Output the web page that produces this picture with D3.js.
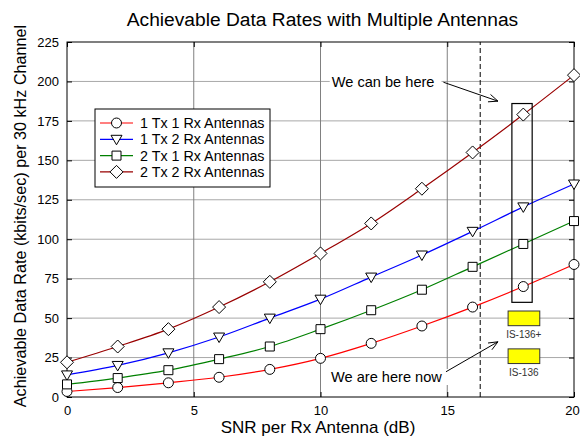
<!DOCTYPE html>
<html>
<head>
<meta charset="utf-8">
<script src="https://cdn.jsdelivr.net/npm/d3@7"></script>
<style>
  body { margin: 0; background: #fff; }
  svg { display: block; font-family: "Liberation Sans", Arial, sans-serif; }
</style>
</head>
<body>
<svg id="chart" width="580" height="440"></svg>
<script>
// SNR per receive antenna (dB)
const snr = [0, 2, 4, 6, 8, 10, 12, 14, 16, 18, 20];

// Achievable rate (kbits/sec per 30 kHz channel) for each antenna configuration
const rate1x1 = [3.5, 6, 9, 12.5, 17.5, 24.5, 34, 45, 57, 70, 84];
const rate1x2 = [14, 20, 28, 38, 50, 62, 76, 90, 105, 120.5, 135];
const rate2x1 = [8, 12, 17, 24, 32, 43, 55, 68, 82.5, 97, 111.5];
const rate2x2 = [22, 32, 43, 57, 73, 91, 110, 132, 155, 179, 204];

const seriesNames = ["1 Tx 1 Rx Antennas", "1 Tx 2 Rx Antennas", "2 Tx 1 Rx Antennas", "2 Tx 2 Rx Antennas"];
const seriesColors = ["#ff0000", "#0000ff", "#008000", "#990000"];
const seriesMarkers = ["circle", "triangle", "square", "diamond"];

const xTicks = [0, 5, 10, 15, 20];
const yTicks = [0, 25, 50, 75, 100, 125, 150, 175, 200, 225];

// Current operating point and the target region at 18 dB
const nowSnr = 16.3;
const regionBox = { x0: 17.55, x1: 18.35, y0: 60, y1: 186 };

const series = [rate1x1, rate1x2, rate2x1, rate2x2].map((vals, i) => ({
  name: seriesNames[i], color: seriesColors[i], marker: seriesMarkers[i],
  points: snr.map((s, j) => ({ x: s, y: vals[j] }))
}));

const svg = d3.select("#chart");
const margin = { left: 67, right: 6, top: 42, bottom: 43 };
const W = 580, H = 440;
const x = d3.scaleLinear().domain([0, 20]).range([margin.left, W - margin.right]);
const y = d3.scaleLinear().domain([0, 225]).range([H - margin.bottom, margin.top]);

// Grid
svg.append("g").selectAll("line").data(yTicks.slice(1, -1)).join("line")
  .attr("x1", x(0)).attr("x2", x(20))
  .attr("y1", d => y(d)).attr("y2", d => y(d))
  .attr("stroke", "#a8a8a8").attr("stroke-width", 1);
svg.append("g").selectAll("line").data(xTicks.slice(1, -1)).join("line")
  .attr("y1", y(0)).attr("y2", y(225))
  .attr("x1", d => x(d)).attr("x2", d => x(d))
  .attr("stroke", "#808080").attr("stroke-width", 1);

// Axes with inward ticks on all four sides
const tickLen = 5;
svg.append("g").attr("class", "x-bottom").attr("transform", `translate(0,${y(0)})`)
  .call(d3.axisBottom(x).tickValues(xTicks).tickSize(-tickLen).tickPadding(9))
  .call(g => g.select(".domain").remove());
svg.append("g").attr("transform", `translate(0,${y(225)})`)
  .call(d3.axisTop(x).tickValues(xTicks).tickSize(-tickLen).tickFormat(""))
  .call(g => g.select(".domain").remove());
svg.append("g").attr("transform", `translate(${x(0)},0)`)
  .call(d3.axisLeft(y).tickValues(yTicks).tickSize(-tickLen).tickPadding(8))
  .call(g => g.select(".domain").remove());
svg.append("g").attr("transform", `translate(${x(20)},0)`)
  .call(d3.axisRight(y).tickValues(yTicks).tickSize(-tickLen).tickFormat(""))
  .call(g => g.select(".domain").remove());
svg.selectAll(".tick text").attr("font-size", 13).attr("fill", "#000")
  .attr("font-family", "Liberation Sans, Arial, sans-serif");
svg.selectAll(".tick line").attr("stroke", "#000");
// keep the last x label inside the page edge
svg.select(".x-bottom").selectAll(".tick text").filter(d => d === 20).attr("dx", -2);

// Frame
svg.append("rect").attr("x", x(0)).attr("y", y(225))
  .attr("width", x(20) - x(0)).attr("height", y(0) - y(225))
  .attr("fill", "none").attr("stroke", "#000").attr("stroke-width", 1);

// Dashed line at current SNR
svg.append("line").attr("x1", x(nowSnr)).attr("x2", x(nowSnr))
  .attr("y1", y(0)).attr("y2", y(225))
  .attr("stroke", "#000").attr("stroke-dasharray", "5,3");

// Annotations (white backing hides the grid behind the text)
function note(txt, cx, cy, padL, padR) {
  const t = svg.append("text").attr("x", cx).attr("y", cy).attr("text-anchor", "middle")
    .attr("font-size", 14.6).attr("fill", "#000").text(txt);
  const b = t.node().getBBox();
  svg.insert("rect", () => t.node()).attr("x", b.x - padL).attr("y", b.y)
    .attr("width", b.width + padL + padR).attr("height", b.height).attr("fill", "#fff");
}
note("We can be here", x(12.47), y(199.5) + 5, 2, 7);
note("We are here now", x(12.6), y(9.5), 9, 6);

// Curves
const line = d3.line().x(d => x(d.x)).y(d => y(d.y)).curve(d3.curveMonotoneX);
svg.append("g").selectAll("path").data(series).join("path")
  .attr("d", d => line(d.points)).attr("fill", "none")
  .attr("stroke", d => d.color).attr("stroke-width", 1.2);

// Marker shapes
function markerPath(type) {
  if (type === "circle") return d3.symbol(d3.symbolCircle, 78)();
  if (type === "square") return "M-4.5,-4.5H4.5V4.5H-4.5Z";
  if (type === "triangle") return "M-5.5,-4L5.5,-4L0,5.5Z";
  return "M0,-6.5L6.5,0L0,6.5L-6.5,0Z";
}
series.forEach(s => {
  svg.append("g").selectAll("path").data(s.points).join("path")
    .attr("transform", d => `translate(${x(d.x)},${y(d.y)})`)
    .attr("d", markerPath(s.marker))
    .attr("fill", "#fff").attr("stroke", "#000").attr("stroke-width", 1);
});

// Target region box
svg.append("rect")
  .attr("x", x(regionBox.x0)).attr("y", y(regionBox.y1))
  .attr("width", x(regionBox.x1) - x(regionBox.x0))
  .attr("height", y(regionBox.y0) - y(regionBox.y1))
  .attr("fill", "none").attr("stroke", "#000").attr("stroke-width", 1.2);

// IS-136 standard rates
const standards = [{ label: "IS-136+", top: 54.5 }, { label: "IS-136", top: 30.5 }];
standards.forEach(st => {
  svg.append("rect")
    .attr("x", x(17.4)).attr("y", y(st.top))
    .attr("width", x(18.65) - x(17.4)).attr("height", y(0) - y(9.3))
    .attr("fill", "#ffff00").attr("stroke", "#333").attr("stroke-width", 1);
  svg.append("text").attr("x", x(18.02)).attr("y", y(st.top) + 27)
    .attr("text-anchor", "middle").attr("font-size", 10).attr("fill", "#333")
    .text(st.label);
});

// Arrow with open V head
function arrow(x1, y1, x2, y2) {
  const g = svg.append("g").attr("stroke", "#000").attr("stroke-width", 1).attr("fill", "none");
  g.append("line").attr("x1", x1).attr("y1", y1).attr("x2", x2).attr("y2", y2);
  const a = Math.atan2(y2 - y1, x2 - x1), L = 10, sp = 0.4;
  g.append("path").attr("d",
    `M${x2 - L * Math.cos(a - sp)},${y2 - L * Math.sin(a - sp)}L${x2},${y2}L${x2 - L * Math.cos(a + sp)},${y2 - L * Math.sin(a + sp)}`);
}
arrow(x(14.85), y(199.5), x(17.0), y(187.5));
arrow(x(14.95), y(16), x(17.0), y(35));

// Legend
const lg = svg.append("g").attr("transform", "translate(95,109)");
lg.append("rect").attr("width", 175).attr("height", 78)
  .attr("fill", "#fff").attr("stroke", "#000").attr("stroke-width", 1);
series.forEach((s, i) => {
  const gy = 14 + i * 16.3;
  lg.append("line").attr("x1", 5).attr("x2", 38).attr("y1", gy).attr("y2", gy)
    .attr("stroke", s.color).attr("stroke-width", 1.2);
  lg.append("path").attr("transform", `translate(21.5,${gy})`).attr("d", markerPath(s.marker))
    .attr("fill", "#fff").attr("stroke", "#000");
  lg.append("text").attr("x", 45).attr("y", gy + 5).attr("font-size", 14.3).text(s.name);
});

// Titles
svg.append("text").attr("x", 322.5).attr("y", 26).attr("text-anchor", "middle")
  .attr("font-size", 19.2).text("Achievable Data Rates with Multiple Antennas");
svg.append("text").attr("x", 318).attr("y", 433).attr("text-anchor", "middle")
  .attr("font-size", 17).text("SNR per Rx Antenna (dB)");
svg.append("text").attr("transform", `translate(26,216) rotate(-90)`)
  .attr("text-anchor", "middle").attr("font-size", 16.2)
  .text("Achievable Data Rate (kbits/sec) per 30 kHz Channel");
</script>
</body>
</html>
